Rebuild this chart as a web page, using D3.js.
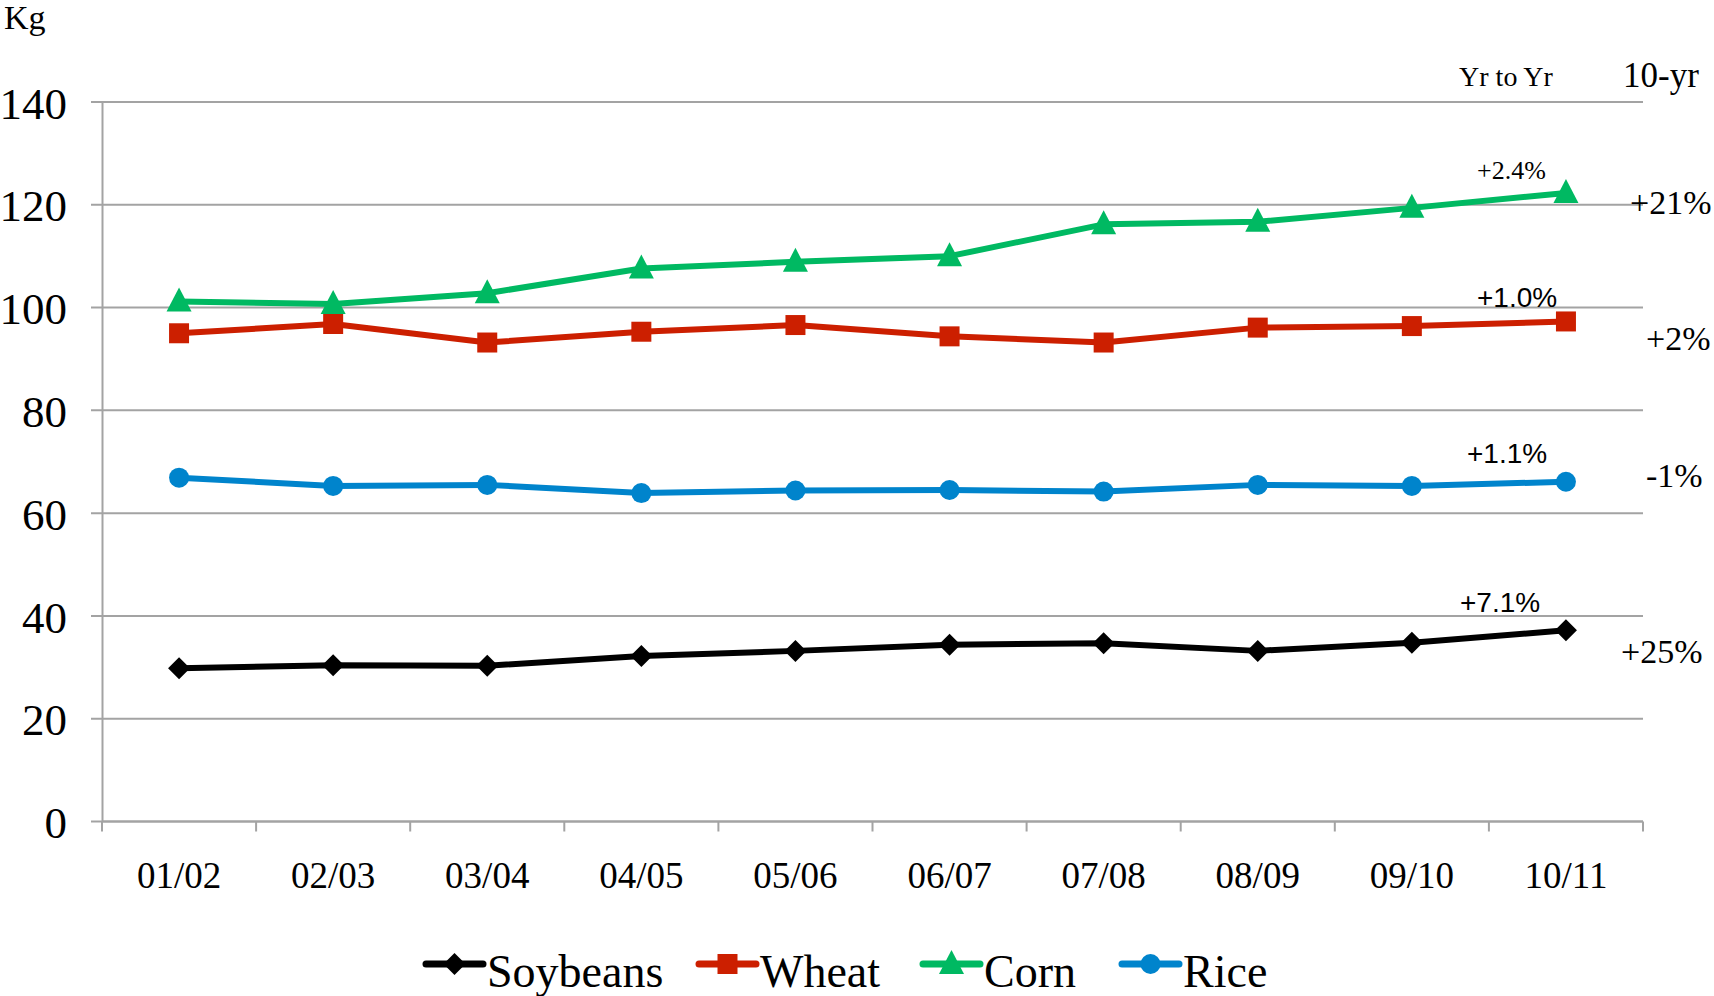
<!DOCTYPE html>
<html>
<head>
<meta charset="utf-8">
<script src="https://cdn.jsdelivr.net/npm/d3@7/dist/d3.min.js"></script>
<style>
  html, body { margin: 0; padding: 0; background: #fff; }
  svg { display: block; }
</style>
</head>
<body>
<svg id="chart" width="1714" height="996"></svg>
<script>
// Per-capita consumption by crop year (kg)
const seasons = ["01/02", "02/03", "03/04", "04/05", "05/06", "06/07", "07/08", "08/09", "09/10", "10/11"];
const soybeans = [29.8, 30.4, 30.3, 32.2, 33.2, 34.4, 34.7, 33.2, 34.8, 37.2];
const wheat    = [95.0, 96.8, 93.2, 95.3, 96.6, 94.4, 93.2, 96.1, 96.4, 97.3];
const corn     = [101.2, 100.7, 102.8, 107.6, 108.9, 110.0, 116.2, 116.7, 119.4, 122.3];
const rice     = [66.9, 65.3, 65.5, 63.9, 64.4, 64.5, 64.2, 65.5, 65.3, 66.1];
const seriesNames = ["Soybeans", "Wheat", "Corn", "Rice"];
const yTicks = [0, 20, 40, 60, 80, 100, 120, 140];
// Change labels: latest year vs previous year, and over ten years
const yrToYrLabels = ["+7.1%", "+1.0%", "+2.4%", "+1.1%"];
const tenYrLabels  = ["+25%", "+2%", "+21%", "-1%"];

const serif = "'Liberation Serif', 'Times New Roman', serif";
const sans = "'Liberation Sans', Arial, sans-serif";

const series = [
  { name: seriesNames[0], values: soybeans, color: "#000000", marker: "diamond" },
  { name: seriesNames[1], values: wheat,    color: "#cc1f00", marker: "square" },
  { name: seriesNames[2], values: corn,     color: "#00b962", marker: "triangle" },
  { name: seriesNames[3], values: rice,     color: "#0084cc", marker: "circle" }
];

const svg = d3.select("#chart");
const plotLeft = 102, plotRight = 1643, plotTop = 102, plotBottom = 821.5;

const x = d3.scaleBand().domain(seasons).range([plotLeft, plotRight]).padding(0);
const y = d3.scaleLinear().domain([0, 140]).range([plotBottom, plotTop]);
const cx = d => x(d) + x.bandwidth() / 2;

// Horizontal gridlines (extend a little left of the axis as tick marks)
svg.append("g").selectAll("line").data(yTicks).join("line")
  .attr("x1", plotLeft - 11).attr("x2", plotRight)
  .attr("y1", d => y(d)).attr("y2", d => y(d))
  .attr("stroke", "#a3a3a3").attr("stroke-width", 2);

// Left axis
const yAxis = svg.append("g").attr("transform", `translate(${plotLeft},0)`)
  .call(d3.axisLeft(y).tickValues(yTicks).tickSize(0).tickSizeOuter(0).tickPadding(35));
yAxis.select(".domain").attr("stroke", "#a3a3a3").attr("stroke-width", 2);
yAxis.selectAll("text")
  .attr("font-family", serif).attr("font-size", 45).attr("fill", "#000")
  .attr("dy", "0.36em");

// Bottom axis: labels at category centres, ticks at category boundaries
const xAxis = svg.append("g").attr("transform", `translate(0,${plotBottom})`)
  .call(d3.axisBottom(x).tickSize(0).tickSizeOuter(0).tickPadding(40));
xAxis.select(".domain").remove();
xAxis.selectAll("text")
  .attr("font-family", serif).attr("font-size", 37).attr("fill", "#000")
  .attr("dy", "0.71em");

const boundaries = seasons.map(s => x(s)).concat([x(seasons[seasons.length - 1]) + x.bandwidth()]);
svg.append("g").selectAll("line").data(boundaries).join("line")
  .attr("x1", d => d).attr("x2", d => d)
  .attr("y1", plotBottom).attr("y2", plotBottom + 10)
  .attr("stroke", "#a3a3a3").attr("stroke-width", 2);
svg.append("line")
  .attr("x1", plotLeft).attr("x2", plotRight).attr("y1", plotBottom).attr("y2", plotBottom)
  .attr("stroke", "#a3a3a3").attr("stroke-width", 2);

// Marker shapes
function markerPath(type) {
  switch (type) {
    case "diamond": return "M0,-11L11,0L0,11L-11,0Z";
    case "square": return "M-10,-10H10V10H-10Z";
    case "triangle": return "M0,-14L12.5,10L-12.5,10Z";
    default: return d3.arc()({ innerRadius: 0, outerRadius: 10, startAngle: 0, endAngle: 2 * Math.PI });
  }
}

const line = d3.line().x((d, i) => cx(seasons[i])).y(d => y(d));

const plot = svg.append("g");
series.forEach(s => {
  const g = plot.append("g");
  g.append("path").datum(s.values)
    .attr("d", line).attr("fill", "none")
    .attr("stroke", s.color).attr("stroke-width", 6)
    .attr("stroke-linejoin", "round");
  g.selectAll("path.mk").data(s.values).join("path")
    .attr("class", "mk")
    .attr("transform", (d, i) => `translate(${cx(seasons[i])},${y(d)})`)
    .attr("d", markerPath(s.marker)).attr("fill", s.color);
});

// Unit label
svg.append("text").attr("x", 4).attr("y", 29)
  .attr("font-family", serif).attr("font-size", 34).text("Kg");

// Column headers for change labels
svg.append("text").attr("x", 1506).attr("y", 86).attr("text-anchor", "middle")
  .attr("font-family", serif).attr("font-size", 28).text("Yr to Yr");
svg.append("text").attr("x", 1623).attr("y", 87)
  .attr("font-family", serif).attr("font-size", 35).text("10-yr");

// Year-to-year change labels, placed above each series' last point
const yrPos = [
  { x: 1460, y: 612, font: sans, size: 28 },
  { x: 1477, y: 307, font: sans, size: 28 },
  { x: 1477, y: 179, font: serif, size: 26 },
  { x: 1467, y: 463, font: sans, size: 28 }
];
yrToYrLabels.forEach((t, i) => {
  svg.append("text").attr("x", yrPos[i].x).attr("y", yrPos[i].y)
    .attr("font-family", yrPos[i].font).attr("font-size", yrPos[i].size).text(t);
});

// Ten-year change labels at the right margin
const tenPos = [
  { x: 1621, y: 663 },
  { x: 1646, y: 350 },
  { x: 1630, y: 214 },
  { x: 1646, y: 487 }
];
tenYrLabels.forEach((t, i) => {
  svg.append("text").attr("x", tenPos[i].x).attr("y", tenPos[i].y)
    .attr("font-family", serif).attr("font-size", 34).text(t);
});

// Legend: one swatch (line + marker) and name per series
const legendX = [426, 699, 923, 1122];
const ly = 964;
const legend = svg.append("g");
series.forEach((s, i) => {
  const lx = legendX[i];
  const g = legend.append("g");
  g.append("line").attr("x1", lx).attr("x2", lx + 57).attr("y1", ly).attr("y2", ly)
    .attr("stroke", s.color).attr("stroke-width", 7).attr("stroke-linecap", "round");
  g.append("path").attr("transform", `translate(${lx + 28.5},${ly})`)
    .attr("d", markerPath(s.marker)).attr("fill", s.color);
  g.append("text").attr("x", lx + 61).attr("y", ly + 23)
    .attr("font-family", serif).attr("font-size", 46).text(s.name);
});
</script>
</body>
</html>
